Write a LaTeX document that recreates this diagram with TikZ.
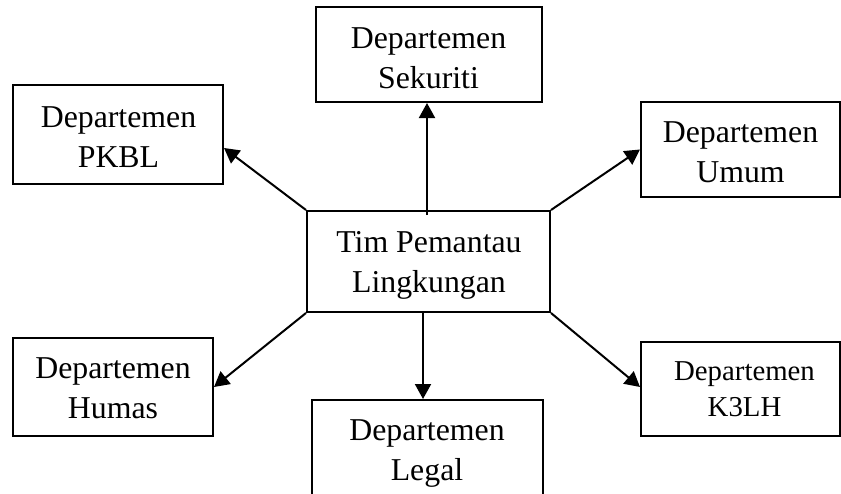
\documentclass[tikz,border=0pt]{standalone}
\usepackage{fontspec}
\setmainfont{Liberation Serif}
\usetikzlibrary{arrows.meta}
\begin{document}
\begin{tikzpicture}[x=0.5pt,y=-0.5pt,
  box/.style={draw, line width=1pt, rectangle, inner sep=0pt},
  txt/.style={anchor=base, inner sep=0pt, font=\fontsize{15.9}{20}\selectfont},
  txtsmall/.style={anchor=base, inner sep=0pt, font=\fontsize{14.4}{18}\selectfont},
  arr/.style={line width=1pt, -{Triangle[length=7.5pt,width=8pt]}}]
\clip (0,0) rectangle (841,493);
% boxes
\node[box, minimum width=113pt, minimum height=47.5pt] (sek) at (429,54.5) {};
\node[box, minimum width=105pt, minimum height=49.5pt] (pkbl) at (118,134.5) {};
\node[box, minimum width=99.5pt, minimum height=47.5pt] (umum) at (740.5,149.5) {};
\node[box, minimum width=121.5pt, minimum height=50.5pt] (tim) at (428.5,261.5) {};
\node[box, minimum width=100pt, minimum height=49pt] (humas) at (113,387) {};
\node[box, minimum width=99.5pt, minimum height=47pt] (k3lh) at (740.5,389) {};
\node[box, minimum width=115.5pt, minimum height=47.5pt] (legal) at (427.5,447.5) {};
% texts
\node[txt] (sekT) at (428.5,48) {\begin{tabular}[t]{@{}c@{}}Departemen\\Sekuriti\end{tabular}};
\node[txt] (pkblT) at (118.5,127) {\begin{tabular}[t]{@{}c@{}}Departemen\\PKBL\end{tabular}};
\node[txt] (umumT) at (740.5,142) {\begin{tabular}[t]{@{}c@{}}Departemen\\Umum\end{tabular}};
\node[txt] (timT) at (429,252) {\begin{tabular}[t]{@{}c@{}}Tim Pemantau\\Lingkungan\end{tabular}};
\node[txt] (humasT) at (113,378) {\begin{tabular}[t]{@{}c@{}}Departemen\\Humas\end{tabular}};
\node[txtsmall] (k3lhT) at (744.5,380) {\begin{tabular}[t]{@{}c@{}}Departemen\\K3LH\end{tabular}};
\node[txt] (legalT) at (427,440) {\begin{tabular}[t]{@{}c@{}}Departemen\\Legal\end{tabular}};
% connectors
\draw[arr] ([xshift=-0.75pt,yshift=-2.5pt]tim.north) -- ([xshift=-0.75pt]tim.north |- sek.south);
\draw[arr] (tim.north west) -- ([yshift=-6.75pt]pkbl.east);
\draw[arr] (tim.north east) -- (umum.west);
\draw[arr] (tim.south west) -- (humas.east);
\draw[arr] (tim.south east) -- ([yshift=1pt]k3lh.west);
\draw[arr] ([xshift=-2.75pt]tim.south) -- ([xshift=-2.75pt]tim.south |- legal.north);
\end{tikzpicture}
\end{document}
